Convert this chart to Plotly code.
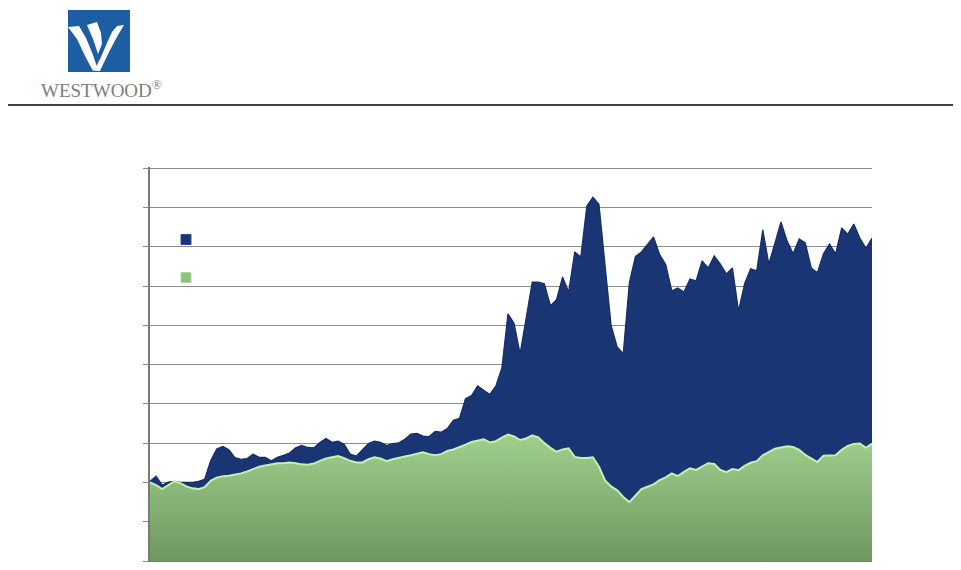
import plotly.graph_objects as go # plotly graph objects

# monthly points, ten years less one month
months = list(range(120))

# upper series (navy area)
navy_vals = [
    20.3, 21.6, 19.3, 20.1, 20.3, 20.0, 20.0, 20.0, 20.3, 20.8,
    25.5, 28.5, 29.2, 28.3, 26.3, 25.9, 26.1, 27.2, 26.4, 26.4,
    25.5, 26.4, 26.9, 27.5, 28.8, 29.4, 28.9, 28.8, 30.2, 31.2,
    30.2, 30.5, 29.7, 27.2, 26.7, 28.2, 29.9, 30.5, 30.2, 29.4,
    29.9, 30.1, 31.0, 32.3, 32.5, 31.8, 31.7, 33.0, 32.8, 33.7,
    35.8, 36.3, 41.3, 42.1, 44.6, 43.5, 42.4, 44.5, 49.2, 62.9,
    60.5, 52.8, 62.0, 71.0, 71.0, 70.6, 65.0, 66.5, 72.3, 68.5,
    78.7, 77.4, 90.4, 92.6, 90.8, 75.0, 60.0, 54.5, 52.8, 70.8,
    77.5, 78.7, 80.7, 82.5, 78.0, 75.5, 68.8, 69.5, 68.5, 71.8,
    71.3, 76.4, 74.6, 77.7, 75.6, 73.1, 74.6, 63.7, 70.6, 74.4,
    73.9, 84.3, 75.6, 80.7, 86.3, 81.5, 78.2, 82.0, 81.0, 74.6,
    73.4, 78.2, 80.7, 78.2, 84.8, 83.2, 85.8, 82.2, 79.6, 82.2,
]

# lower series (green area)
green_vals = [
    20.0, 19.3, 18.3, 19.3, 20.3, 19.8, 19.0, 18.5, 18.3, 18.8,
    20.4, 21.2, 21.6, 21.7, 22.0, 22.3, 22.8, 23.5, 24.0, 24.3,
    24.6, 24.9, 24.9, 25.1, 24.9, 24.6, 24.5, 24.8, 25.5, 26.1,
    26.4, 26.7, 26.2, 25.5, 25.1, 25.1, 25.9, 26.4, 26.1, 25.4,
    25.9, 26.3, 26.6, 26.9, 27.3, 27.7, 27.2, 26.9, 27.2, 28.0,
    28.4, 28.9, 29.6, 30.3, 30.7, 31.0, 30.2, 30.5, 31.4, 32.2,
    31.7, 30.8, 31.2, 32.0, 31.5, 30.0, 28.8, 27.8, 28.4, 28.7,
    26.5, 26.2, 26.2, 26.4, 24.0, 20.5, 19.0, 18.0, 16.3, 15.0,
    16.6, 18.3, 18.9, 19.5, 20.6, 21.3, 22.3, 21.6, 22.7, 23.6,
    23.2, 24.0, 24.9, 24.7, 23.2, 22.6, 23.4, 23.1, 24.2, 25.0,
    25.4, 26.9, 27.8, 28.6, 28.9, 29.2, 29.0, 28.3, 27.0, 26.0,
    25.2, 26.8, 26.9, 26.9, 28.3, 29.3, 29.8, 29.9, 28.8, 29.9,
]

year_ticks = list(range(0, 120, 12)) # one tick per year

OFF = 8 # page body margin round the plot div
W, H = 961 - 2 * OFF, 570 - 2 * OFF # figure size inside the margin
L, R, T, B = 150, 872, 167, 561 # plot box in page pixels

def px(x): # page pixel x to paper
    return (x - L) / (R - L)

def py(y): # page pixel y to paper
    return (B - y) / (B - T)

def pts(points): # pixel polygon to svg path in paper units
    return "M " + " L ".join(f"{px(a):.4f},{py(b):.4f}" for a, b in points) + " Z"

fig = go.Figure()

fig.add_trace(go.Scatter( # navy area
    x=months, y=navy_vals,
    mode="lines", fill="tozeroy",
    line=dict(color="#152d68", width=1.2),
    fillcolor="#1a3573",
    showlegend=False, hoverinfo="skip"
))

fig.add_trace(go.Scatter( # green area, drawn in front
    x=months, y=green_vals,
    mode="lines", fill="tozeroy",
    line=dict(color="#c6efb2", width=2),
    fillgradient=dict(type="vertical", start=0, stop=32,
                      colorscale=[[0, "#6e985f"], [1, "#9fd08d"]]),
    showlegend=False, hoverinfo="skip"
))

# legend keys (the original shows only the swatches)
fig.add_trace(go.Scatter(x=[None], y=[None], mode="markers", name=" ", legendgroup="a",
                         marker=dict(symbol="square", size=10, color="#1a3573",
                                     line=dict(color="#2c4c96", width=1))))
fig.add_trace(go.Scatter(x=[None], y=[None], mode="markers", name=" ", legendgroup="b",
                         marker=dict(symbol="square", size=10, color="#8fc27c",
                                     line=dict(color="#a9d898", width=1))))

fig.update_xaxes(
    range=[0, 119], showgrid=False, zeroline=False, automargin=False,
    tickmode="array", tickvals=year_ticks, showticklabels=False,
    ticks="outside", ticklen=5, tickcolor="#8a8a8a",
    showline=True, linecolor="#6f7f6a", linewidth=1.5
)
fig.update_yaxes(
    range=[0, 100.3], tickmode="array", tickvals=list(range(0, 101, 10)),
    showticklabels=False, automargin=False,
    gridcolor="#8c8c8c", gridwidth=1, zeroline=False,
    ticks="outside", ticklen=5, tickcolor="#8a8a8a",
    showline=True, linecolor="#7a7a7a", linewidth=1.5
)

shapes = [
    dict(type="line", xref="paper", yref="paper", # header rule
         x0=px(0), x1=px(961), y0=py(105), y1=py(105),
         line=dict(color="#000000", width=1.5)),
    dict(type="rect", xref="paper", yref="paper", # logo square
         x0=px(68), x1=px(130), y0=py(72), y1=py(10),
         fillcolor="#1d5ea3", line=dict(width=0)),
    dict(type="path", xref="paper", yref="paper", fillcolor="white", line=dict(width=0), # left arm
         path=pts([(68, 27), (79, 26), (86, 38), (93, 55), (97, 67), (93, 71), (85, 56), (77, 39)])),
    dict(type="path", xref="paper", yref="paper", fillcolor="white", line=dict(width=0), # middle arm
         path=pts([(87, 25), (97, 22), (101, 33), (102, 44), (98, 54), (93, 39)])),
    dict(type="path", xref="paper", yref="paper", fillcolor="white", line=dict(width=0), # right arm
         path=pts([(94, 71), (101, 57), (107, 43), (112, 32), (117, 26), (124, 25), (118, 35),
                   (109, 52), (100, 71)])),
]

fig.update_layout(
    width=W, height=H,
    margin=dict(l=L - OFF, r=W + OFF - R, t=T - OFF, b=H + OFF - B),
    paper_bgcolor="white", plot_bgcolor="white",
    shapes=shapes,
    legend=dict(x=px(166), y=py(225), xanchor="left", yanchor="top",
                bgcolor="rgba(0,0,0,0)", tracegroupgap=19,
                font=dict(size=12, color="white")),
    annotations=[dict(text="WESTWOOD<sup>®</sup>", xref="paper", yref="paper",
                      x=px(101), y=py(89), xanchor="center", yanchor="middle",
                      showarrow=False,
                      font=dict(family="Liberation Serif", size=19, color="#7d7d7d"))]
)

fig.write_html("out.html")
